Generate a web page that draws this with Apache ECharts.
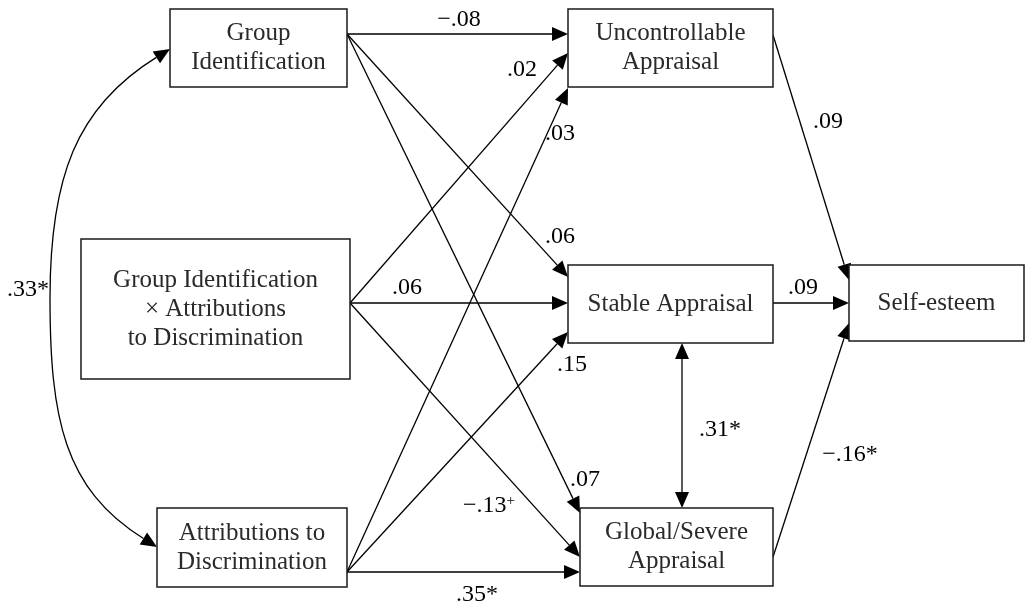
<!DOCTYPE html>
<html>
<head>
<meta charset="utf-8">
<script src="https://cdn.jsdelivr.net/npm/echarts@6/dist/echarts.min.js"></script>
<style>
  html, body { margin: 0; padding: 0; background: #fff; }
  #chart { width: 1025px; height: 609px; }
</style>
</head>
<body>
<div id="chart"></div>
<script>
// --- data ---
const variables = [
  'Group\nIdentification',
  'Group Identification\n× Attributions\nto Discrimination',
  'Attributions to\nDiscrimination',
  'Uncontrollable\nAppraisal',
  'Stable Appraisal',
  'Global/Severe\nAppraisal',
  'Self-esteem'
];
const pathFrom = [0, 0, 0, 1, 1, 1, 2, 2, 2, 3, 4, 5];
const pathTo   = [3, 4, 5, 3, 4, 5, 3, 4, 5, 6, 6, 6];
const pathCoef = ['−.08', '.06', '.07', '.02', '.06', '−.13+', '.03', '.15', '.35*', '.09', '.09', '−.16*'];
const covFrom = [0, 4];
const covTo   = [2, 5];
const covCoef = ['.33*', '.31*'];

// --- layout (diagram units = px) ---
const boxRect = [
  [170, 9, 347, 87], [81, 239, 350, 379], [157, 508, 347, 587],
  [568, 9, 773, 87], [568, 265, 773, 343], [580, 508, 773, 586],
  [849, 265, 1024, 341]
];
const srcY = [34, 34, 34, 303, 303, 303, 572, 572, 572, 35, 303, 557];
const dstY = [34, 277, 513, 53, 303, 557, 88, 332, 572, 280, 303, 323];
const pathLabelAt = [[459, 20], [560, 237], [585, 480], [522, 70], [407, 288], [489, 506],
  [560, 134], [572, 365], [477, 595], [828, 122], [803, 288], [850, 455]];
const covLabelAt = [[28, 290], [720, 430]];

const SERIF = '"Liberation Serif", "Times New Roman", serif';
const INK = '#000';
const AH_LEN = 16, AH_HALF = 7;

function arrowHead(tip, from) {
  const dx = tip[0] - from[0], dy = tip[1] - from[1];
  const d = Math.hypot(dx, dy), ux = dx / d, uy = dy / d;
  const bx = tip[0] - ux * AH_LEN, by = tip[1] - uy * AH_LEN;
  return {
    base: [bx, by],
    el: { type: 'polygon', shape: { points: [tip, [bx - uy * AH_HALF, by + ux * AH_HALF], [bx + uy * AH_HALF, by - ux * AH_HALF]] },
      style: { fill: INK } }
  };
}

function labelEl(txt, pos) {
  let text = txt;
  if (txt.endsWith('+')) text = txt.slice(0, -1) + '{sup|+}';
  return {
    type: 'text', x: pos[0], y: pos[1],
    style: {
      text: text, font: '24px ' + SERIF, fill: INK, align: 'center', verticalAlign: 'middle',
      rich: { sup: { font: '15px ' + SERIF, fill: INK, verticalAlign: 'top', padding: [0, 0, 10, 0] } }
    }
  };
}

const chart = echarts.init(document.getElementById('chart'));

chart.setOption({
  animation: false,
  grid: { left: 0, right: 0, top: 0, bottom: 0 },
  xAxis: { type: 'value', min: 0, max: 1025, show: false },
  yAxis: { type: 'value', min: 0, max: 609, inverse: true, show: false },
  series: [
    {
      // variable boxes
      type: 'custom', coordinateSystem: 'cartesian2d', clip: false,
      data: variables.map((_, i) => [i]),
      renderItem: (params, api) => {
        const r = boxRect[params.dataIndex];
        const p0 = api.coord([r[0], r[1]]), p1 = api.coord([r[2], r[3]]);
        return {
          type: 'group',
          children: [
            { type: 'rect', shape: { x: p0[0], y: p0[1], width: p1[0] - p0[0], height: p1[1] - p0[1] },
              style: { fill: '#fff', stroke: '#1a1a1a', lineWidth: 1.5 } },
            { type: 'text', x: (p0[0] + p1[0]) / 2, y: (p0[1] + p1[1]) / 2,
              style: { text: variables[params.dataIndex], font: '25px ' + SERIF, fill: '#2a2a2a',
                align: 'center', verticalAlign: 'middle', lineHeight: 29 } }
          ]
        };
      },
      z: 3
    },
    {
      // directed paths
      type: 'custom', coordinateSystem: 'cartesian2d', clip: false,
      data: pathCoef.map((_, i) => [i]),
      renderItem: (params, api) => {
        const i = params.dataIndex;
        const a = api.coord([boxRect[pathFrom[i]][2], srcY[i]]);
        const b = api.coord([boxRect[pathTo[i]][0], dstY[i]]);
        const head = arrowHead(b, a);
        return {
          type: 'group',
          children: [
            { type: 'line', shape: { x1: a[0], y1: a[1], x2: head.base[0], y2: head.base[1] },
              style: { stroke: INK, lineWidth: 1.3 } },
            head.el,
            labelEl(pathCoef[i], api.coord(pathLabelAt[i]))
          ]
        };
      },
      z: 2
    },
    {
      // covariances (double-headed)
      type: 'custom', coordinateSystem: 'cartesian2d', clip: false,
      data: covCoef.map((_, i) => [i]),
      renderItem: (params, api) => {
        const i = params.dataIndex;
        const f = boxRect[covFrom[i]], t = boxRect[covTo[i]];
        const kids = [];
        if (i === 0) {
          // curved link on the left of the predictors
          const s = api.coord([f[0], 49]), e = api.coord([t[0], 547]);
          const m = api.coord([50, 298]);
          const c1 = api.coord([76, 107]), c2 = api.coord([50, 178]);
          const c3 = api.coord([50, 418]), c4 = api.coord([64, 489]);
          const h1 = arrowHead(s, c1), h2 = arrowHead(e, c4);
          kids.push(
            { type: 'bezierCurve', shape: { x1: h1.base[0], y1: h1.base[1], cpx1: c1[0], cpy1: c1[1], cpx2: c2[0], cpy2: c2[1], x2: m[0], y2: m[1] },
              style: { stroke: INK, lineWidth: 1.3, fill: null } },
            { type: 'bezierCurve', shape: { x1: m[0], y1: m[1], cpx1: c3[0], cpy1: c3[1], cpx2: c4[0], cpy2: c4[1], x2: h2.base[0], y2: h2.base[1] },
              style: { stroke: INK, lineWidth: 1.3, fill: null } },
            h1.el, h2.el
          );
        } else {
          const x = 682;
          const s = api.coord([x, f[3]]), e = api.coord([x, t[1]]);
          const h1 = arrowHead(s, e), h2 = arrowHead(e, s);
          kids.push(
            { type: 'line', shape: { x1: h1.base[0], y1: h1.base[1], x2: h2.base[0], y2: h2.base[1] },
              style: { stroke: INK, lineWidth: 1.3 } },
            h1.el, h2.el
          );
        }
        kids.push(labelEl(covCoef[i], api.coord(covLabelAt[i])));
        return { type: 'group', children: kids };
      },
      z: 2
    }
  ]
});

window.addEventListener('resize', () => chart.resize());
</script>
</body>
</html>
